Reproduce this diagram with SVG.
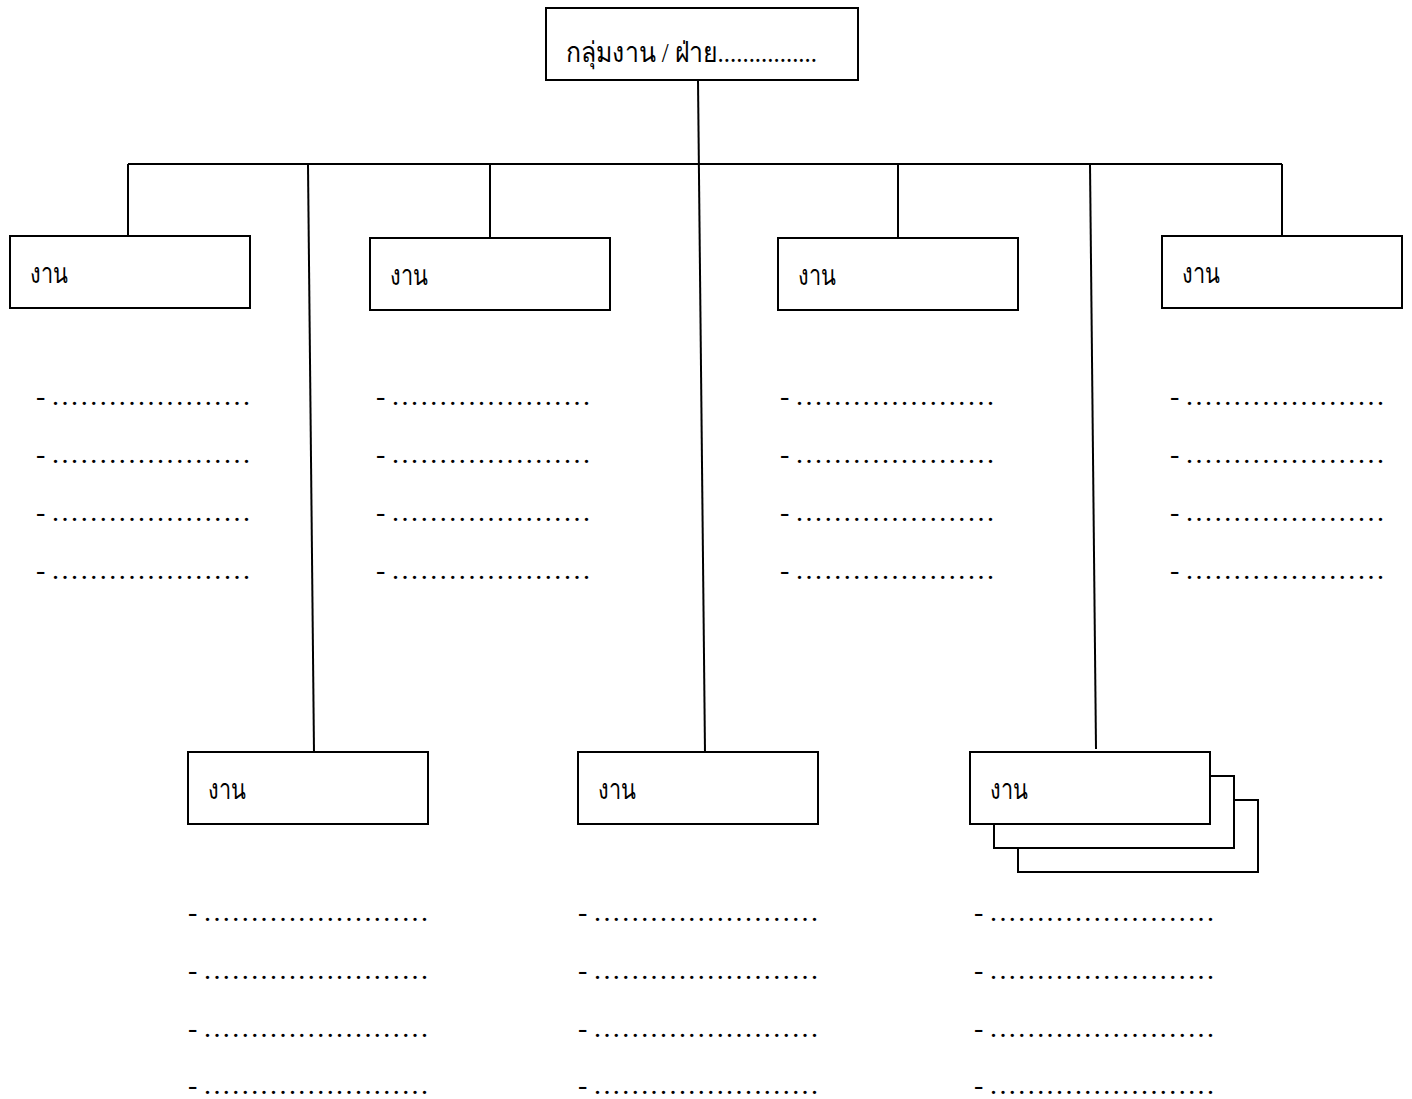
<svg xmlns="http://www.w3.org/2000/svg" width="1412" height="1099" viewBox="0 0 1412 1099">
<style>
.box{fill:#fff;stroke:#000;stroke-width:2}
.ln{stroke:#000;stroke-width:2;fill:none}
.lbl{font-family:"Liberation Serif","Noto Sans",serif;font-size:28px;fill:#000}
.dot{font-family:"Liberation Serif",serif;font-size:28px;fill:#000}
</style>
<rect width="1412" height="1099" fill="#fff"/>
<g id="connectors">
<line class="ln" x1="128" y1="164" x2="1282" y2="164"/>
<line class="ln" x1="698" y1="80" x2="705" y2="752"/>
<line class="ln" x1="128" y1="164" x2="128" y2="236"/>
<line class="ln" x1="490" y1="164" x2="490" y2="238"/>
<line class="ln" x1="898" y1="164" x2="898" y2="238"/>
<line class="ln" x1="1282" y1="164" x2="1282" y2="236"/>
<line class="ln" x1="308" y1="165" x2="314" y2="752"/>
<line class="ln" x1="1090" y1="164" x2="1096" y2="749"/>
</g>
<g id="top">
<rect class="box" x="546" y="8" width="312" height="72"/>
<text class="lbl" x="566" y="62" textLength="251" lengthAdjust="spacingAndGlyphs">กลุ่มงาน / ฝ่าย................</text>
</g>
<g id="n1">
<rect class="box" x="10" y="236" width="240" height="72"/>
<text class="lbl" x="30" y="283" textLength="38" lengthAdjust="spacingAndGlyphs">งาน</text>
</g>
<g id="n2">
<rect class="box" x="370" y="238" width="240" height="72"/>
<text class="lbl" x="390" y="285" textLength="38" lengthAdjust="spacingAndGlyphs">งาน</text>
</g>
<g id="n3">
<rect class="box" x="778" y="238" width="240" height="72"/>
<text class="lbl" x="798" y="285" textLength="38" lengthAdjust="spacingAndGlyphs">งาน</text>
</g>
<g id="n4">
<rect class="box" x="1162" y="236" width="240" height="72"/>
<text class="lbl" x="1182" y="283" textLength="38" lengthAdjust="spacingAndGlyphs">งาน</text>
</g>
<g id="n5">
<rect class="box" x="188" y="752" width="240" height="72"/>
<text class="lbl" x="208" y="799" textLength="38" lengthAdjust="spacingAndGlyphs">งาน</text>
</g>
<g id="n6">
<rect class="box" x="578" y="752" width="240" height="72"/>
<text class="lbl" x="598" y="799" textLength="38" lengthAdjust="spacingAndGlyphs">งาน</text>
</g>
<g id="n7">
<rect class="box" x="1018" y="800" width="240" height="72"/>
<rect class="box" x="994" y="776" width="240" height="72"/>
<rect class="box" x="970" y="752" width="240" height="72"/>
<text class="lbl" x="990" y="799" textLength="38" lengthAdjust="spacingAndGlyphs">งาน</text>
</g>
<g id="lists" class="dot">
<text x="36" y="405">-</text><text x="52" y="405" textLength="198" lengthAdjust="spacing">.....................</text>
<text x="36" y="463">-</text><text x="52" y="463" textLength="198" lengthAdjust="spacing">.....................</text>
<text x="36" y="521">-</text><text x="52" y="521" textLength="198" lengthAdjust="spacing">.....................</text>
<text x="36" y="579">-</text><text x="52" y="579" textLength="198" lengthAdjust="spacing">.....................</text>
<text x="376" y="405">-</text><text x="392" y="405" textLength="198" lengthAdjust="spacing">.....................</text>
<text x="376" y="463">-</text><text x="392" y="463" textLength="198" lengthAdjust="spacing">.....................</text>
<text x="376" y="521">-</text><text x="392" y="521" textLength="198" lengthAdjust="spacing">.....................</text>
<text x="376" y="579">-</text><text x="392" y="579" textLength="198" lengthAdjust="spacing">.....................</text>
<text x="780" y="405">-</text><text x="796" y="405" textLength="198" lengthAdjust="spacing">.....................</text>
<text x="780" y="463">-</text><text x="796" y="463" textLength="198" lengthAdjust="spacing">.....................</text>
<text x="780" y="521">-</text><text x="796" y="521" textLength="198" lengthAdjust="spacing">.....................</text>
<text x="780" y="579">-</text><text x="796" y="579" textLength="198" lengthAdjust="spacing">.....................</text>
<text x="1170" y="405">-</text><text x="1186" y="405" textLength="198" lengthAdjust="spacing">.....................</text>
<text x="1170" y="463">-</text><text x="1186" y="463" textLength="198" lengthAdjust="spacing">.....................</text>
<text x="1170" y="521">-</text><text x="1186" y="521" textLength="198" lengthAdjust="spacing">.....................</text>
<text x="1170" y="579">-</text><text x="1186" y="579" textLength="198" lengthAdjust="spacing">.....................</text>
<text x="188" y="921">-</text><text x="204" y="921" textLength="224" lengthAdjust="spacing">........................</text>
<text x="188" y="979">-</text><text x="204" y="979" textLength="224" lengthAdjust="spacing">........................</text>
<text x="188" y="1037">-</text><text x="204" y="1037" textLength="224" lengthAdjust="spacing">........................</text>
<text x="188" y="1094">-</text><text x="204" y="1094" textLength="224" lengthAdjust="spacing">........................</text>
<text x="578" y="921">-</text><text x="594" y="921" textLength="224" lengthAdjust="spacing">........................</text>
<text x="578" y="979">-</text><text x="594" y="979" textLength="224" lengthAdjust="spacing">........................</text>
<text x="578" y="1037">-</text><text x="594" y="1037" textLength="224" lengthAdjust="spacing">........................</text>
<text x="578" y="1094">-</text><text x="594" y="1094" textLength="224" lengthAdjust="spacing">........................</text>
<text x="974" y="921">-</text><text x="990" y="921" textLength="224" lengthAdjust="spacing">........................</text>
<text x="974" y="979">-</text><text x="990" y="979" textLength="224" lengthAdjust="spacing">........................</text>
<text x="974" y="1037">-</text><text x="990" y="1037" textLength="224" lengthAdjust="spacing">........................</text>
<text x="974" y="1094">-</text><text x="990" y="1094" textLength="224" lengthAdjust="spacing">........................</text>
</g>
</svg>
